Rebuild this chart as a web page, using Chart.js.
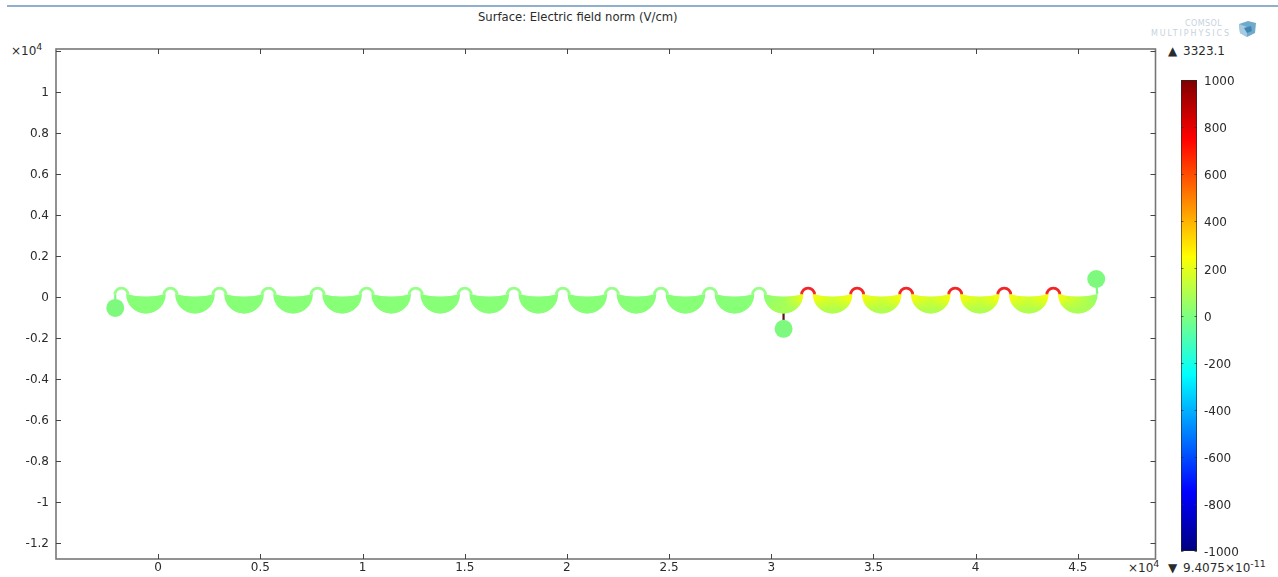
<!DOCTYPE html>
<html>
<head>
<meta charset="utf-8">
<title>Surface: Electric field norm</title>
<script src="https://cdn.jsdelivr.net/npm/chart.js@4"></script>
<style>
  html, body { margin: 0; padding: 0; background: #fff; }
  body { width: 1278px; height: 577px; position: relative; overflow: hidden; font-family: "DejaVu Sans", sans-serif; color: #2b2b2b; }
  canvas { position: absolute; display: block; }
  .topline { position: absolute; left: 7px; right: 0; top: 5px; height: 2px; background: #8fb0cc; }
  .txt { position: absolute; font-size: 12px; line-height: 14px; white-space: nowrap; }
  .txt sup { font-size: 9.5px; line-height: 0; vertical-align: 5px; }
  .txt i { font-style: normal; display: inline-block; width: 15px; }
  .logo { position: absolute; font-size: 8px; line-height: 9px; color: #c6d3dd; white-space: nowrap; }
</style>
</head>
<body>
<div class="topline"></div>
<div class="txt" style="left:478px;top:10px;font-size:11.6px">Surface: Electric field norm (V/cm)</div>
<div class="txt" style="left:11px;top:44px">×10<sup>4</sup></div>
<div class="txt" style="left:1128px;top:561px">×10<sup>4</sup></div>
<div class="txt" style="left:1168px;top:44px"><i>▲</i>3323.1</div>
<div class="txt" style="left:1168px;top:561px"><i>▼</i>9.4075×10<sup>-11</sup></div>
<div class="logo" style="left:1185px;top:19px;letter-spacing:0.4px">COMSOL</div>
<div class="logo" style="left:1151px;top:29px;letter-spacing:1.9px">MULTIPHYSICS</div>
<svg style="position:absolute;left:1238px;top:20px" width="19" height="18" viewBox="0 0 19 18">
  <polygon points="1,4 10,1 18,3 17,13 9,17 2,13" fill="#6fa9cb"/>
  <polygon points="1,4 9,7 9,17 2,13" fill="#a6cbe0"/>
  <polygon points="6,8 13,6 14,11 9,13" fill="#3f86b3"/>
</svg>
<canvas id="plot" width="1278" height="577" style="left:0;top:0"></canvas>
<canvas id="bar" width="100" height="510" style="left:1170px;top:60px"></canvas>

<script>
// 軸刻度 (x10^4)
const xTicks = [0, 0.5, 1, 1.5, 2, 2.5, 3, 3.5, 4, 4.5];
const yTicks = [-1.2, -1, -0.8, -0.6, -0.4, -0.2, 0, 0.2, 0.4, 0.6, 0.8, 1, 1.2];
const yHiddenLabels = [1.2];

// 半圓腔體中心
const bowlX = [-0.06, 0.18, 0.42, 0.66, 0.90, 1.14, 1.38, 1.62, 1.86, 2.10, 2.34, 2.58, 2.82, 3.06, 3.30, 3.54, 3.78, 4.02, 4.26, 4.50];
const bowlY = [0.015, 0.015, 0.015, 0.015, 0.015, 0.015, 0.015, 0.015, 0.015, 0.015, 0.015, 0.015, 0.015, 0.015, 0.015, 0.015, 0.015, 0.015, 0.015, 0.015];
// 腔體電場值: 左角 / 上緣中央 / 右角 / 底部
const bowlLeft = [15, 15, 15, 15, 15, 15, 15, 15, 15, 15, 15, 15, 15, 20, 235, 235, 235, 235, 235, 235];
const bowlMid = [15, 15, 15, 15, 15, 15, 15, 15, 15, 15, 15, 15, 15, 70, 160, 160, 160, 160, 160, 130];
const bowlRight = [15, 15, 15, 15, 15, 15, 15, 15, 15, 15, 15, 15, 15, 225, 235, 235, 235, 235, 235, 35];
const bowlBottom = [15, 15, 15, 15, 15, 15, 15, 15, 15, 15, 15, 15, 15, 75, 90, 90, 90, 90, 90, 80];

// 連接拱
const archX = [-0.18, 0.06, 0.30, 0.54, 0.78, 1.02, 1.26, 1.50, 1.74, 1.98, 2.22, 2.46, 2.70, 2.94, 3.18, 3.42, 3.66, 3.90, 4.14, 4.38];
const archY = [0.012, 0.012, 0.012, 0.012, 0.012, 0.012, 0.012, 0.012, 0.012, 0.012, 0.012, 0.012, 0.012, 0.012, 0.012, 0.012, 0.012, 0.012, 0.012, 0.012];
const archTop = [15, 15, 15, 15, 15, 15, 15, 15, 15, 15, 15, 15, 15, 20, 780, 780, 780, 780, 780, 780];
const archFoot = [15, 15, 15, 15, 15, 15, 15, 15, 15, 15, 15, 15, 15, 20, 300, 300, 300, 300, 300, 300];

// 圓形電極
const padX = [-0.21, 3.06, 4.59];
const padY = [-0.053, -0.155, 0.088];

// 電極引線
const leadLeftX = [-0.21, -0.21];
const leadLeftY = [0.012, -0.04];
const leadRightX = [4.595, 4.59];
const leadRightY = [0.015, 0.07];
const leadMidX = [3.06, 3.06];
const leadMidY = [-0.075, -0.12];

// 色階
const barTicks = [-1000, -800, -600, -400, -200, 0, 200, 400, 600, 800, 1000];
const barStops = [-1000, -750, -250, 0, 250, 750, 1000];
const barColors = [[0, 0, 127], [0, 0, 255], [0, 255, 255], [127, 255, 127], [255, 255, 0], [255, 0, 0], [127, 0, 0]];

const bowlHalf = 0.097;
const archRadius = 0.032;
const frameColor = "#777";
const textColor = "#2b2b2b";
const labelFont = { family: "'DejaVu Sans'", size: 12 };

function fieldColor(v, alpha) {
    for (let i = 1; i < barStops.length; i++) {
        if (v <= barStops[i]) {
            const t = (v - barStops[i - 1]) / (barStops[i] - barStops[i - 1]);
            const c = barColors[i].map((b, k) => Math.round(barColors[i - 1][k] + (b - barColors[i - 1][k]) * t));
            return "rgba(" + c.join(",") + "," + (alpha === undefined ? 1 : alpha) + ")";
        }
    }
    return "rgb(127,0,0)";
}

function toPoints(xs, ys) {
    return xs.map((x, i) => ({ x: x, y: ys[i] }));
}

function leadDataset(xs, ys, color) {
    return {
        type: "line",
        data: toPoints(xs, ys),
        borderColor: color,
        borderWidth: 2.2,
        pointRadius: 0,
        fill: false,
        order: 3
    };
}

// 腔體與拱形畫在資料點位置
const cellPlugin = {
    id: "cells",
    afterDatasetsDraw(chart) {
        const ctx = chart.ctx;
        const sx = chart.scales.x, sy = chart.scales.y;
        const rx = sx.getPixelForValue(bowlHalf) - sx.getPixelForValue(0);
        const ry = sy.getPixelForValue(0) - sy.getPixelForValue(0.095);
        const ra = sx.getPixelForValue(archRadius) - sx.getPixelForValue(0);
        const dip = sy.getPixelForValue(0) - sy.getPixelForValue(0.026);

        ctx.save();
        chart.getDatasetMeta(0).data.forEach((p, i) => {
            const g = ctx.createLinearGradient(p.x - rx, 0, p.x + rx, 0);
            g.addColorStop(0, fieldColor(bowlLeft[i]));
            g.addColorStop(0.2, fieldColor((bowlLeft[i] + bowlMid[i]) / 2));
            g.addColorStop(0.5, fieldColor(bowlMid[i]));
            g.addColorStop(0.8, fieldColor((bowlRight[i] + bowlMid[i]) / 2));
            g.addColorStop(1, fieldColor(bowlRight[i]));
            const v = ctx.createLinearGradient(0, p.y, 0, p.y + ry);
            v.addColorStop(0.25, fieldColor(bowlBottom[i], 0));
            v.addColorStop(0.9, fieldColor(bowlBottom[i], 1));
            [g, v].forEach(fill => {
                ctx.fillStyle = fill;
                ctx.beginPath();
                ctx.moveTo(p.x - rx, p.y);
                ctx.ellipse(p.x, p.y, rx, ry, 0, Math.PI, 0, true);
                ctx.quadraticCurveTo(p.x, p.y + dip, p.x - rx, p.y);
                ctx.closePath();
                ctx.fill();
            });
        });
        ctx.globalAlpha = 0.85;
        chart.getDatasetMeta(1).data.forEach((p, i) => {
            const g = ctx.createLinearGradient(0, p.y - ra, 0, p.y + 1);
            g.addColorStop(0, fieldColor(archTop[i]));
            g.addColorStop(0.7, fieldColor(archTop[i]));
            g.addColorStop(1, fieldColor(archFoot[i]));
            ctx.strokeStyle = g;
            ctx.lineWidth = 2.8;
            ctx.beginPath();
            ctx.arc(p.x, p.y, ra, Math.PI, 0);
            ctx.stroke();
        });
        ctx.restore();
    },
    // 外框與朝內刻度
    afterDraw(chart) {
        const ctx = chart.ctx;
        const a = chart.chartArea;
        const tick = 5;
        ctx.save();
        ctx.strokeStyle = frameColor;
        ctx.lineWidth = 1.6;
        ctx.strokeRect(a.left, a.top, a.right - a.left, a.bottom - a.top);
        ctx.strokeStyle = "#444";
        ctx.lineWidth = 1;
        ctx.beginPath();
        chart.scales.x.ticks.forEach(t => {
            const x = Math.round(chart.scales.x.getPixelForValue(t.value)) + 0.5;
            ctx.moveTo(x, a.top); ctx.lineTo(x, a.top + tick);
            ctx.moveTo(x, a.bottom); ctx.lineTo(x, a.bottom - tick);
        });
        chart.scales.y.ticks.forEach(t => {
            const y = Math.round(chart.scales.y.getPixelForValue(t.value)) + 0.5;
            ctx.moveTo(a.left, y); ctx.lineTo(a.left + tick, y);
            ctx.moveTo(a.right, y); ctx.lineTo(a.right - tick, y);
        });
        ctx.stroke();
        ctx.restore();
    }
};

new Chart(document.getElementById("plot").getContext("2d"), {
    type: "scatter",
    data: {
        datasets: [
            { data: toPoints(bowlX, bowlY), pointRadius: 0, showLine: false },
            { data: toPoints(archX, archY), pointRadius: 0, showLine: false },
            { data: toPoints(padX, padY), pointRadius: 9, pointBackgroundColor: "#7dfa7d", pointBorderWidth: 0, showLine: false },
            leadDataset(leadLeftX, leadLeftY, "#7dfa7d"),
            leadDataset(leadRightX, leadRightY, "#7dfa7d"),
            leadDataset(leadMidX, leadMidY, "#5a1414")
        ]
    },
    options: {
        responsive: false,
        animation: false,
        layout: { padding: { top: 49, left: 0, right: 122.5, bottom: 0 } },
        plugins: { legend: { display: false }, tooltip: { enabled: false } },
        scales: {
            x: {
                type: "linear",
                min: -0.5,
                max: 4.88,
                grid: { display: false, drawTicks: false },
                border: { display: false },
                afterBuildTicks: s => { s.ticks = xTicks.map(v => ({ value: v })); },
                afterFit: s => { s.height = 18; },
                ticks: {
                    color: textColor,
                    font: labelFont,
                    padding: 2,
                    maxRotation: 0,
                    autoSkip: false,
                    callback: v => String(v)
                }
            },
            y: {
                type: "linear",
                min: -1.278,
                max: 1.21,
                grid: { display: false, drawTicks: false },
                border: { display: false },
                afterBuildTicks: s => { s.ticks = yTicks.map(v => ({ value: v })); },
                afterFit: s => { s.width = 56; },
                ticks: {
                    color: textColor,
                    font: labelFont,
                    padding: 7,
                    labelOffset: 1,
                    autoSkip: false,
                    callback: v => (yHiddenLabels.includes(v) ? "" : String(v))
                }
            }
        }
    },
    plugins: [cellPlugin]
});

// 色階小刻度與外框
const barFramePlugin = {
    id: "barFrame",
    afterDraw(chart) {
        const ctx = chart.ctx;
        const a = chart.chartArea;
        ctx.save();
        ctx.strokeStyle = "rgba(40,40,40,0.65)";
        ctx.lineWidth = 1;
        ctx.strokeRect(a.left + 0.5, a.top + 0.5, a.right - a.left - 1, a.bottom - a.top - 1);
        ctx.beginPath();
        chart.scales.y.ticks.forEach(t => {
            const y = Math.round(chart.scales.y.getPixelForValue(t.value)) + 0.5;
            ctx.moveTo(a.left, y); ctx.lineTo(a.left + 2.5, y);
            ctx.moveTo(a.right, y); ctx.lineTo(a.right - 2.5, y);
        });
        ctx.stroke();
        ctx.restore();
    }
};

new Chart(document.getElementById("bar").getContext("2d"), {
    type: "bar",
    data: {
        labels: ["V/cm"],
        datasets: [{
            data: [[barTicks[0], barTicks[barTicks.length - 1]]],
            barPercentage: 1,
            categoryPercentage: 1,
            backgroundColor: function (c) {
                const a = c.chart.chartArea;
                const s = c.chart.scales.y;
                if (!a) return "#7fff7f";
                const g = c.chart.ctx.createLinearGradient(0, a.bottom, 0, a.top);
                barStops.forEach((v, i) => {
                    g.addColorStop((s.getPixelForValue(v) - a.bottom) / (a.top - a.bottom), "rgb(" + barColors[i].join(",") + ")");
                });
                return g;
            }
        }]
    },
    options: {
        responsive: false,
        animation: false,
        layout: { padding: { top: 20, left: 11, right: 0, bottom: 19 } },
        plugins: { legend: { display: false }, tooltip: { enabled: false } },
        scales: {
            x: { display: false },
            y: {
                position: "right",
                min: -1000,
                max: 1000,
                grid: { display: false, drawTicks: false },
                border: { display: false },
                afterBuildTicks: s => { s.ticks = barTicks.map(v => ({ value: v })); },
                afterFit: s => { s.width = 73; },
                ticks: {
                    color: textColor,
                    font: labelFont,
                    padding: 7,
                    labelOffset: 2,
                    autoSkip: false,
                    callback: v => String(v)
                }
            }
        }
    },
    plugins: [barFramePlugin]
});
</script>
</body>
</html>
